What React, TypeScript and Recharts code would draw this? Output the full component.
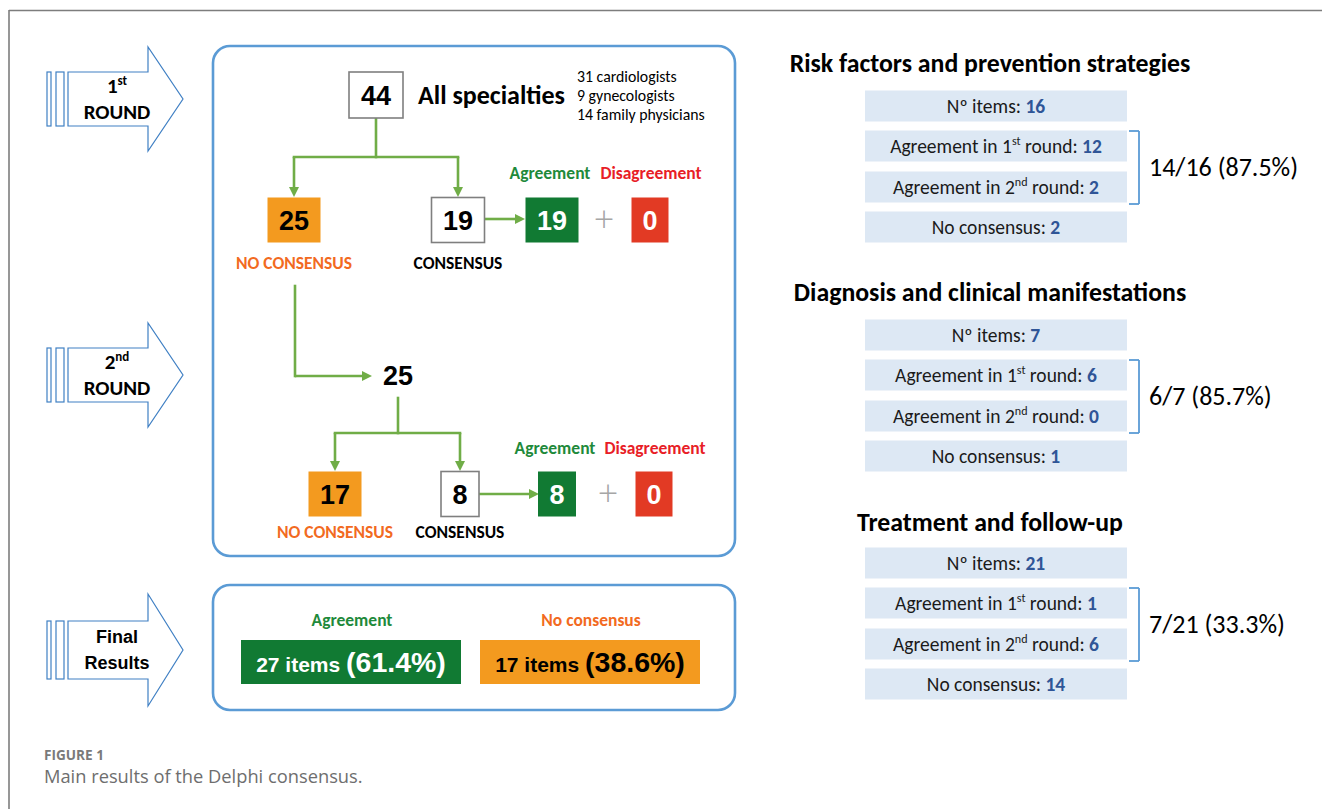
import React from "react";
import { ScatterChart, Scatter, XAxis, YAxis, ReferenceLine, ReferenceArea } from "recharts";

// ---------- values ----------
const roundOrdinals = [["1", "st"], ["2", "nd"]];
const expertsTotal = 44;
const specialtyLines = ["31 cardiologists", "9 gynecologists", "14 family physicians"];
const noConsensusByRound = [25, 17];
const consensusByRound = [19, 8];
const agreementByRound = [19, 8];
const disagreementByRound = [0, 0];
const finalLabels = ["Agreement", "No consensus"];
const finalItems = [27, 17];

const domainTitles = [
  "Risk factors and prevention strategies",
  "Diagnosis and clinical manifestations",
  "Treatment and follow-up",
];
const domainItems = [16, 7, 21];
const domainAgree1st = [12, 6, 1];
const domainAgree2nd = [2, 0, 6];
const domainNoConsensus = [2, 1, 14];

// ---------- layout (page pixels) ----------
const W = 1322;
const H = 809;
const FONT_C = "Carlito, Lato, 'Noto Sans', sans-serif";
const FONT_A = "'Liberation Sans', Arial, sans-serif";
const FONT_N = "'Liberation Sans Narrow', 'Liberation Sans', Arial, sans-serif";
const FONT_CAP = "'Open Sans', Lato, sans-serif";

const GREEN_LINE = "#70ad47";
const PANEL_BLUE = "#5b9bd5";
const ARROW_BLUE = "#4080c4";
const ORANGE = "#f39a1f";
const GREEN = "#117a33";
const RED = "#e23a24";
const TXT_ORANGE = "#f26a21";
const TXT_GREEN = "#1f8a3b";
const TXT_RED = "#e81e27";
const ROW_FILL = "#dde8f4";
const VAL_BLUE = "#2f5597";

const roundArrowY = [99, 375, 650];
const roundBoxY = [220, 494];
const roundLabelY = [263, 532];
const roundHeadY = [173, 448];
const noConsX = [294, 335];
const consX = [458, 460];
const consW = [53, 38];
const agreeX = [552, 557];
const agreeW = [53, 38];
const disX = [650, 654];
const plusX = [604, 608];
const finalX = [352, 591];
const domainTitleY = [63, 292, 522];
const domainRowY = [106, 335, 563];
const rowOffsets = [0, 40, 81, 121];

const ROW_SIZE = 19.5;
const LABEL_SIZE = 17.5;

type Part = { t: string; sup?: boolean; b?: boolean; c?: string };
type TextNode = {
  x: number; y: number; parts: Part[]; size: number; weight?: number;
  color: string; anchor?: "start" | "middle" | "end"; font?: string;
};

function renderParts(parts: Part[], size: number) {
  let shift = 0;
  return parts.map((p, i) => {
    let dy = 0;
    if (p.sup && shift === 0) { dy = -size * 0.38; shift = dy; }
    else if (!p.sup && shift !== 0) { dy = -shift; shift = 0; }
    return (
      <tspan key={i} dy={dy || undefined} fontSize={p.sup ? size * 0.62 : undefined}
        fontWeight={p.b ? 700 : undefined} fill={p.c}>
        {p.t}
      </tspan>
    );
  });
}

const TextShape = (props: any) => {
  const { cx, cy, payload } = props;
  const n: TextNode = payload;
  return (
    <text x={cx} y={cy + n.size * 0.35} fontSize={n.size} fontWeight={n.weight ?? 400}
      fill={n.color} textAnchor={n.anchor ?? "middle"} fontFamily={n.font ?? FONT_C}>
      {renderParts(n.parts, n.size)}
    </text>
  );
};

type Box = {
  x: number; y: number; w: number; h: number; fill: string; stroke?: string;
  label: string; color: string; size: number;
};

const BoxShape = (props: any) => {
  const { cx, cy, payload } = props;
  const b: Box = payload;
  return (
    <g>
      <rect x={cx - b.w / 2} y={cy - b.h / 2} width={b.w} height={b.h} fill={b.fill}
        stroke={b.stroke ?? "none"} strokeWidth={1.6} />
      <text x={cx} y={cy + b.size * 0.36} textAnchor="middle" fontSize={b.size}
        fontWeight={700} fill={b.color} fontFamily={FONT_A}>{b.label}</text>
    </g>
  );
};

const FinalShape = (props: any) => {
  const { cx, cy, payload } = props;
  return (
    <g>
      <rect x={cx - 110} y={cy - 22} width={220} height={44} fill={payload.fill} />
      <text x={cx} y={cy + 10} textAnchor="middle" fontFamily={FONT_A} fontWeight={700}
        fill={payload.color}>
        <tspan fontSize={21}>{payload.items} items </tspan>
        <tspan fontSize={28.5}>({payload.pct}%)</tspan>
      </text>
    </g>
  );
};

const RowShape = (props: any) => {
  const { cx, cy, payload } = props;
  return (
    <g>
      <rect x={cx - 131} y={cy - 15.5} width={262} height={31} fill={ROW_FILL} />
      <text x={cx} y={cy + ROW_SIZE * 0.35} textAnchor="middle" fontSize={ROW_SIZE}
        fontFamily={FONT_C} fill="#1a1a1a">
        {renderParts(payload.parts, ROW_SIZE)}
      </text>
    </g>
  );
};

const RoundArrow = (props: any) => {
  const { cx, cy, payload } = props;
  const bh = payload.body;
  const hh = payload.head;
  const fs = payload.size;
  const pts = [[-47, -bh], [33, -bh], [33, -hh], [68, 0], [33, hh], [33, bh], [-47, bh]]
    .map(([dx, dy]) => `${cx + dx},${cy + dy}`).join(" ");
  return (
    <g>
      <rect x={cx - 68} y={cy - bh} width={4} height={bh * 2} fill="#fff" stroke={ARROW_BLUE} strokeWidth={1.2} />
      <rect x={cx - 59} y={cy - bh} width={8} height={bh * 2} fill="#fff" stroke={ARROW_BLUE} strokeWidth={1.2} />
      <polygon points={pts} fill="#fff" stroke={ARROW_BLUE} strokeWidth={1.2} />
      {payload.lines.map((ln: Part[], i: number) => (
        <text key={i} x={cx + 2} y={cy + (i === 0 ? -13 : 13) + fs * 0.35} textAnchor="middle"
          fontSize={fs} fontWeight={700} fill="#000" fontFamily={payload.font}>
          {renderParts(ln, fs)}
        </text>
      ))}
    </g>
  );
};

const ConnectorShape = (arrow: boolean) => (p: any) => {
  const { x1, y1, x2, y2 } = p;
  if (x1 == null) return null;
  const len = Math.hypot(x2 - x1, y2 - y1) || 1;
  const ux = (x2 - x1) / len;
  const uy = (y2 - y1) / len;
  const hl = arrow ? 10 : 0;
  const hw = 5;
  const ex = x2 - ux * hl;
  const ey = y2 - uy * hl;
  return (
    <g>
      <line x1={x1} y1={y1} x2={ex} y2={ey} stroke={GREEN_LINE} strokeWidth={2.6}
        strokeLinecap={arrow ? "butt" : "square"} />
      {arrow && (
        <polygon fill={GREEN_LINE}
          points={`${x2},${y2} ${ex - uy * hw},${ey + ux * hw} ${ex + uy * hw},${ey - ux * hw}`} />
      )}
    </g>
  );
};

const connectors: { pts: [number, number][]; arrow: boolean }[] = [
  { pts: [[376, 118], [376, 157]], arrow: false },
  { pts: [[294, 157], [458, 157]], arrow: false },
  { pts: [[294, 157], [294, 197]], arrow: true },
  { pts: [[458, 157], [458, 197]], arrow: true },
  { pts: [[484, 219], [525, 219]], arrow: true },
  { pts: [[295, 286], [295, 376]], arrow: false },
  { pts: [[295, 376], [372, 376]], arrow: true },
  { pts: [[398, 398], [398, 433]], arrow: false },
  { pts: [[335, 433], [460, 433]], arrow: false },
  { pts: [[335, 433], [335, 471]], arrow: true },
  { pts: [[460, 433], [460, 471]], arrow: true },
  { pts: [[479, 494], [539, 494]], arrow: true },
];

const RoundedPanel = (p: any) => (
  <rect x={p.x} y={p.y} width={p.width} height={p.height} rx={17} ry={17}
    fill="none" stroke={PANEL_BLUE} strokeWidth={2.6} />
);

// ---------- nodes built from the data ----------
const arrowNodes = [
  { x: 115, y: roundArrowY[0], body: 27, head: 52, font: FONT_C, size: 21,
    lines: [[{ t: roundOrdinals[0][0] }, { t: roundOrdinals[0][1], sup: true }], [{ t: "ROUND" }]] },
  { x: 115, y: roundArrowY[1], body: 27, head: 52, font: FONT_C, size: 21,
    lines: [[{ t: roundOrdinals[1][0] }, { t: roundOrdinals[1][1], sup: true }], [{ t: "ROUND" }]] },
  { x: 115, y: roundArrowY[2], body: 29, head: 56, font: FONT_N, size: 18,
    lines: [[{ t: "Final" }], [{ t: "Results" }]] },
];

const boxNodes: Box[] = [
  { x: 376, y: 95, w: 54, h: 46, fill: "#fff", stroke: "#7f7f7f", label: String(expertsTotal), color: "#000", size: 27 },
];
[0, 1].forEach((r) => {
  const y = roundBoxY[r];
  boxNodes.push({ x: noConsX[r], y, w: 53, h: 45, fill: ORANGE, label: String(noConsensusByRound[r]), color: "#000", size: 27 });
  boxNodes.push({ x: consX[r], y, w: consW[r], h: 45, fill: "#fff", stroke: "#7f7f7f", label: String(consensusByRound[r]), color: "#000", size: 27 });
  boxNodes.push({ x: agreeX[r], y, w: agreeW[r], h: 45, fill: GREEN, label: String(agreementByRound[r]), color: "#fff", size: 27 });
  boxNodes.push({ x: disX[r], y, w: 37, h: 45, fill: RED, label: String(disagreementByRound[r]), color: "#fff", size: 27 });
});

const textNodes: TextNode[] = [
  { x: 418, y: 95, parts: [{ t: "All specialties" }], size: 26, weight: 700, color: "#000", anchor: "start" },
  ...specialtyLines.map((s, i) => ({ x: 577, y: 76 + i * 19, parts: [{ t: s }], size: 15.8, color: "#000", anchor: "start" as const })),
  { x: 398, y: 376, parts: [{ t: String(noConsensusByRound[0]) }], size: 27, weight: 700, color: "#000", font: FONT_A },
];
[0, 1].forEach((r) => {
  textNodes.push({ x: noConsX[r], y: roundLabelY[r], parts: [{ t: "NO CONSENSUS" }], size: LABEL_SIZE, weight: 700, color: TXT_ORANGE });
  textNodes.push({ x: consX[r], y: roundLabelY[r], parts: [{ t: "CONSENSUS" }], size: LABEL_SIZE, weight: 700, color: "#000" });
  textNodes.push({ x: agreeX[r] - 2, y: roundHeadY[r], parts: [{ t: "Agreement" }], size: LABEL_SIZE, weight: 700, color: TXT_GREEN });
  textNodes.push({ x: disX[r] + 1, y: roundHeadY[r], parts: [{ t: "Disagreement" }], size: LABEL_SIZE, weight: 700, color: TXT_RED });
  textNodes.push({ x: plusX[r], y: roundBoxY[r] - 1, parts: [{ t: "+" }], size: 36, weight: 300, color: "#a6a6a6", font: FONT_CAP });
});
finalLabels.forEach((l, i) => {
  textNodes.push({ x: finalX[i], y: 620, parts: [{ t: l }], size: LABEL_SIZE, weight: 700, color: i === 0 ? TXT_GREEN : TXT_ORANGE });
});
domainTitles.forEach((t, i) => {
  const agreed = domainAgree1st[i] + domainAgree2nd[i];
  const pct = ((100 * agreed) / domainItems[i]).toFixed(1);
  textNodes.push({ x: 990, y: domainTitleY[i], parts: [{ t }], size: 25.8, weight: 700, color: "#000" });
  textNodes.push({ x: 1149, y: domainRowY[i] + 61, parts: [{ t: `${agreed}/${domainItems[i]} (${pct}%)` }], size: 26, color: "#000", anchor: "start" });
});
textNodes.push({ x: 44, y: 755, parts: [{ t: "FIGURE 1" }], size: 13.6, weight: 700, color: "#7a7a7a", anchor: "start", font: FONT_CAP });
textNodes.push({ x: 44, y: 777, parts: [{ t: "Main results of the Delphi consensus." }], size: 18.3, color: "#6e6e6e", anchor: "start", font: FONT_CAP });

const finalNodes = finalItems.map((n, i) => ({
  x: i === 0 ? 351 : 590, y: 662, items: n,
  pct: ((100 * n) / expertsTotal).toFixed(1),
  fill: i === 0 ? GREEN : ORANGE, color: i === 0 ? "#fff" : "#000",
}));

const rowNodes: { x: number; y: number; parts: Part[] }[] = [];
domainTitles.forEach((_, i) => {
  const base = domainRowY[i];
  const v = (n: number): Part => ({ t: String(n), b: true, c: VAL_BLUE });
  rowNodes.push({ x: 996, y: base + rowOffsets[0], parts: [{ t: "Nº items: " }, v(domainItems[i])] });
  rowNodes.push({ x: 996, y: base + rowOffsets[1], parts: [{ t: "Agreement in 1" }, { t: "st", sup: true }, { t: " round: " }, v(domainAgree1st[i])] });
  rowNodes.push({ x: 996, y: base + rowOffsets[2], parts: [{ t: "Agreement in 2" }, { t: "nd", sup: true }, { t: " round: " }, v(domainAgree2nd[i])] });
  rowNodes.push({ x: 996, y: base + rowOffsets[3], parts: [{ t: "No consensus: " }, v(domainNoConsensus[i])] });
});

const bracketSegs: [number, number][][] = [];
domainRowY.forEach((base) => {
  const top = base + rowOffsets[1] - 15;
  const bot = base + rowOffsets[2] + 17;
  bracketSegs.push([[1129, top], [1139, top]]);
  bracketSegs.push([[1139, top], [1139, bot]]);
  bracketSegs.push([[1139, bot], [1129, bot]]);
});

export default function App() {
  return (
    <div style={{ width: W, height: H, background: "#fff" }}>
      <style>{"body{margin:0;background:#fff}"}</style>
      <ScatterChart width={W} height={H} margin={{ top: 0, right: 0, bottom: 0, left: 0 }}>
        <XAxis type="number" dataKey="x" domain={[0, W]} hide allowDataOverflow />
        <YAxis type="number" dataKey="y" domain={[0, H]} reversed hide allowDataOverflow />

        {/* page frame */}
        <ReferenceLine segment={[{ x: 9, y: 10.5 }, { x: W, y: 10.5 }]} stroke="#7d7d7d" strokeWidth={1.6} ifOverflow="visible" />
        <ReferenceLine segment={[{ x: 9, y: 10 }, { x: 9, y: H }]} stroke="#7d7d7d" strokeWidth={1.6} ifOverflow="visible" />

        <ReferenceArea x1={213} x2={735} y1={46} y2={556} shape={RoundedPanel} ifOverflow="visible" />
        <ReferenceArea x1={213} x2={735} y1={585} y2={710} shape={RoundedPanel} ifOverflow="visible" />

        {connectors.map((c, i) => (
          <ReferenceLine key={`c${i}`} segment={[{ x: c.pts[0][0], y: c.pts[0][1] }, { x: c.pts[1][0], y: c.pts[1][1] }]}
            shape={ConnectorShape(c.arrow)} ifOverflow="visible" />
        ))}
        {bracketSegs.map((s, i) => (
          <ReferenceLine key={`b${i}`} segment={[{ x: s[0][0], y: s[0][1] }, { x: s[1][0], y: s[1][1] }]}
            stroke={PANEL_BLUE} strokeWidth={1.8} ifOverflow="visible" />
        ))}

        <Scatter data={arrowNodes} shape={RoundArrow} isAnimationActive={false} />
        <Scatter data={boxNodes} shape={BoxShape} isAnimationActive={false} />
        <Scatter data={finalNodes} shape={FinalShape} isAnimationActive={false} />
        <Scatter data={rowNodes} shape={RowShape} isAnimationActive={false} />
        <Scatter data={textNodes} shape={TextShape} isAnimationActive={false} />
      </ScatterChart>
    </div>
  );
}
